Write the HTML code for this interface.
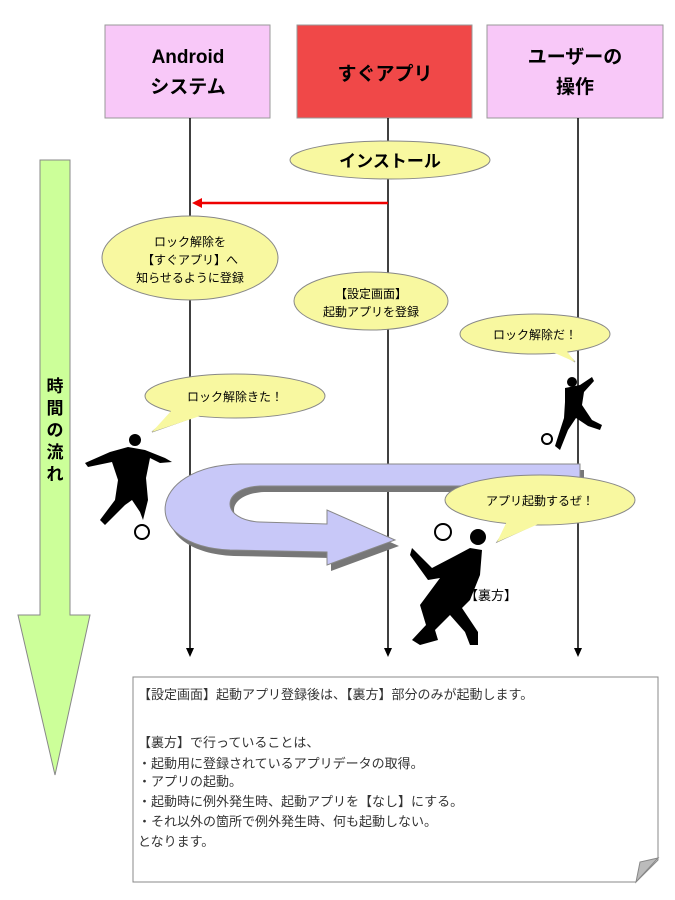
<!DOCTYPE html>
<html><head><meta charset="utf-8"><style>
body{margin:0;background:#fff;}
svg{display:block;font-family:"Liberation Sans","Noto Sans CJK JP",sans-serif;}
</style></head><body>
<svg width="675" height="900" viewBox="0 0 675 900" xmlns="http://www.w3.org/2000/svg">
<!-- header boxes -->
<rect x="105" y="25" width="165" height="93" fill="#f8c8f8" stroke="#999"/>
<text x="188" y="63" font-size="19" font-weight="bold" text-anchor="middle">Android</text>
<text x="188" y="93" font-size="19" font-weight="bold" text-anchor="middle">システム</text>
<rect x="297" y="25" width="175" height="93" fill="#f04848" stroke="#999"/>
<text x="385" y="80" font-size="19" font-weight="bold" text-anchor="middle">すぐアプリ</text>
<rect x="487" y="25" width="176" height="93" fill="#f8c8f8" stroke="#999"/>
<text x="575" y="63" font-size="19" font-weight="bold" text-anchor="middle">ユーザーの</text>
<text x="575" y="93" font-size="19" font-weight="bold" text-anchor="middle">操作</text>
<!-- lifelines -->
<line x1="190" y1="118" x2="190" y2="650" stroke="#000" stroke-width="1.5"/>
<line x1="388" y1="118" x2="388" y2="650" stroke="#000" stroke-width="1.5"/>
<line x1="578" y1="118" x2="578" y2="650" stroke="#000" stroke-width="1.5"/>
<path d="M186,648 L194,648 L190,657 Z M384,648 L392,648 L388,657 Z M574,648 L582,648 L578,657 Z" fill="#000"/>
<!-- time arrow -->
<path d="M40,160 L70,160 L70,615 L90,615 L55,775 L18,615 L40,615 Z" fill="#ccff99" stroke="#888"/>
<text font-size="17" font-weight="bold" text-anchor="middle"><tspan x="55" y="392">時</tspan><tspan x="55" y="414">間</tspan><tspan x="55" y="436">の</tspan><tspan x="55" y="458">流</tspan><tspan x="55" y="480">れ</tspan></text>
<!-- install -->
<ellipse cx="390" cy="160" rx="100" ry="19" fill="#f8f8a0" stroke="#888"/>
<text x="390" y="167" font-size="17" font-weight="bold" text-anchor="middle">インストール</text>
<!-- red arrow -->
<line x1="388" y1="203" x2="200" y2="203" stroke="#e00" stroke-width="2.5"/>
<path d="M192,203 L202,198 L202,208 Z" fill="#e00"/>
<!-- bubbles -->
<ellipse cx="190" cy="258" rx="88" ry="42" fill="#f8f8a0" stroke="#888"/>
<text font-size="12" text-anchor="middle"><tspan x="190" y="246">ロック解除を</tspan><tspan x="190" y="264">【すぐアプリ】へ</tspan><tspan x="190" y="282">知らせるように登録</tspan></text>
<ellipse cx="371" cy="301" rx="77" ry="29" fill="#f8f8a0" stroke="#888"/>
<text font-size="12" text-anchor="middle"><tspan x="371" y="298">【設定画面】</tspan><tspan x="371" y="316">起動アプリを登録</tspan></text>
<path d="M555,350 L575,362 L560,346 Z" fill="#f8f8a0" stroke="#888"/>
<ellipse cx="535" cy="334" rx="75" ry="20" fill="#f8f8a0" stroke="#888"/>
<path d="M548,350 L575,362 L566,350 Z" fill="#f8f8a0"/>
<text x="535" y="339" font-size="12" text-anchor="middle">ロック解除だ！</text>
<path d="M175,412 L152,432 L200,415" fill="#f8f8a0" stroke="#888"/>
<ellipse cx="235" cy="396" rx="90" ry="22" fill="#f8f8a0" stroke="#888"/>
<path d="M172,410 L152,432 L200,416 Z" fill="#f8f8a0"/>
<text x="235" y="401" font-size="12" text-anchor="middle">ロック解除きた！</text>
<!-- big curved arrow -->
<path d="M584,470 L244,470 C150,472 142,552 234,556 L331,558 L331,571 L399,546 L331,516 L331,530 L264,528 C224,526 224,494 264,492 L584,492 Z" fill="#777"/>
<path d="M580,464 L240,464 C146,466 138,546 230,550 L327,552 L327,565 L395,540 L327,510 L327,524 L260,522 C220,520 220,488 260,486 L580,486 Z" fill="#c8c8f8" stroke="#888"/>
<path d="M515,515 L497,542 L545,520 Z" fill="#f8f8a0" stroke="#888"/>
<ellipse cx="540" cy="500" rx="95" ry="25" fill="#f8f8a0" stroke="#888"/>
<path d="M510,515 L497,542 L550,519 Z" fill="#f8f8a0"/>
<text x="540" y="505" font-size="12" text-anchor="middle">アプリ起動するぜ！</text>
<!-- silhouettes -->
<g fill="#000">
<circle cx="135" cy="440" r="6"/>
<path d="M85,463 L110,452 L128,447 L145,450 L165,458 L172,462 L160,463 L150,458 L146,478 L148,500 L143,520 L140,512 L132,500 L125,505 L105,525 L100,520 L115,500 L118,480 L112,462 L88,467 Z"/>
<circle cx="142" cy="532" r="7" fill="#fff" stroke="#000" stroke-width="2"/>
<circle cx="572" cy="382" r="5"/>
<path d="M565,388 L580,385 L592,377 L594,381 L584,392 L582,405 L592,420 L602,425 L600,430 L588,426 L576,418 L568,430 L560,450 L555,446 L564,418 L565,402 Z"/>
<circle cx="547" cy="439" r="5" fill="#fff" stroke="#000" stroke-width="2"/>
<circle cx="478" cy="537" r="8"/>
<path d="M412,548 L432,568 L455,556 L470,548 L482,550 L480,575 L470,600 L462,608 L478,632 L478,645 L470,645 L465,632 L450,615 L435,630 L438,640 L420,645 L412,640 L426,625 L420,605 L440,578 L428,580 L410,555 Z"/>
<circle cx="443" cy="532" r="8" fill="#fff" stroke="#000" stroke-width="2"/>
</g>
<text x="465" y="600" font-size="13">【裏方】</text>
<!-- note -->
<path d="M133,677 L658,677 L658,860 L636,882 L133,882 Z" fill="#fff" stroke="#888"/>
<path d="M658,858 L636,882 L640,862 Z" fill="#bbb" stroke="#888"/>
<g font-size="13" fill="#333">
<text x="138" y="699">【設定画面】起動アプリ登録後は、【裏方】部分のみが起動します。</text>
<text x="138" y="747">【裏方】で行っていることは、</text>
<text x="138" y="768">・起動用に登録されているアプリデータの取得。</text>
<text x="138" y="786">・アプリの起動。</text>
<text x="138" y="806">・起動時に例外発生時、起動アプリを【なし】にする。</text>
<text x="138" y="826">・それ以外の箇所で例外発生時、何も起動しない。</text>
<text x="138" y="846">となります。</text>
</g>
</svg>
</body></html>
